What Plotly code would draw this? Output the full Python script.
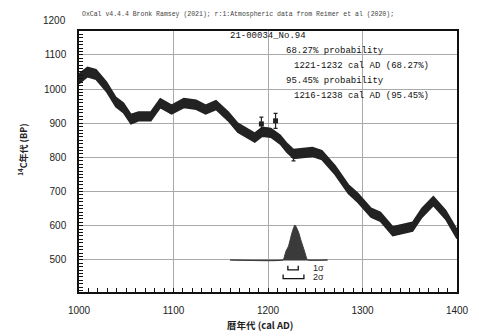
import plotly.graph_objects as go

# Calibration curve (IntCal20 band)
curve_years = [1000, 1009, 1018, 1029, 1039, 1047, 1055, 1063, 1076, 1086, 1098, 1111, 1124, 1134, 1145,
               1158, 1168, 1178, 1186, 1194, 1203, 1213, 1220, 1227, 1235, 1247, 1257, 1271, 1285, 1295, 1309,
               1319, 1332, 1339, 1353, 1363, 1375, 1388, 1400]
curve_bp = [1030, 1050, 1043, 1007, 962, 945, 912, 920, 920, 959, 940, 959, 954, 940, 953,
            920, 887, 870, 858, 875, 872, 852, 828, 810, 812, 816, 807, 763, 707, 682, 638,
            626, 584, 588, 597, 638, 672, 632, 575]
curve_err = [14, 14, 14, 14, 14, 14, 14, 13, 13, 13, 13, 13, 13, 13, 13,
             13, 13, 13, 13, 13, 13, 13, 13, 13, 13, 13, 13, 13, 13, 13, 13,
             13, 13, 13, 13, 13, 13, 13, 13]

# Data points with error bars
pt_years = [1193, 1208, 1227]
pt_bp = [898, 907, 806]
pt_err = [20, 22, 16]

# Calibrated probability distribution (relative)
dist_years = [1160, 1216, 1217, 1219, 1221.5, 1225, 1228.5, 1232, 1235, 1238.5, 1241, 1242, 1263]
dist_prob = [0, 0, 0.06, 0.25, 0.38, 0.74, 1.0, 0.82, 0.55, 0.26, 0.04, 0, 0]

range_1s = (1221, 1232)
range_2s = (1216, 1238)

x_ticks = [1000, 1100, 1200, 1300, 1400]
y_ticks = [500, 600, 700, 800, 900, 1000, 1100]

header = "OxCal v4.4.4 Bronk Ramsey (2021); r:1:Atmospheric data from Reimer et al (2020);"
info_lines = ["21-00034_No.94", "68.27% probability", "1221-1232 cal AD (68.27%)",
              "95.45% probability", "1216-1238 cal AD (95.45%)"]

# ---- layout constants (pixels) ----
W, H = 479, 336
L, R, T, B = 79, 10, 31, 44
PW, PH = W - L - R, H - T - B
YR = [406, 1170]
BASE_BP = 500
DIST_H = 102


def px(xp):
    return (xp - L) / PW


def py(yp):
    return (H - B - yp) / PH


fig = go.Figure()

upper = [c + e for c, e in zip(curve_bp, curve_err)]
lower = [c - e for c, e in zip(curve_bp, curve_err)]
fig.add_trace(go.Scatter(x=curve_years, y=upper, mode="lines", line=dict(color="#222", width=1.5),
                         hoverinfo="skip", showlegend=False))
fig.add_trace(go.Scatter(x=curve_years, y=lower, mode="lines", line=dict(color="#222", width=1.5),
                         fill="tonexty", fillcolor="#222", hoverinfo="skip", showlegend=False))

# distribution
fig.add_trace(go.Scatter(x=[dist_years[0], dist_years[-1]], y=[BASE_BP, BASE_BP], mode="lines",
                         line=dict(color="#777", width=1.5), showlegend=False, hoverinfo="skip"))
fig.add_trace(go.Scatter(x=dist_years, y=[BASE_BP + p * DIST_H for p in dist_prob], mode="lines",
                         line=dict(color="#3a3a3a", width=1, shape="spline", smoothing=0.6),
                         fill="toself", fillcolor="#3a3a3a",
                         showlegend=False, hoverinfo="skip"))

# data points
fig.add_trace(go.Scatter(x=pt_years, y=pt_bp, mode="markers",
                         marker=dict(symbol="square", size=5, color="#222"),
                         error_y=dict(type="data", array=pt_err, color="#222", thickness=1.2, width=2),
                         showlegend=False, hoverinfo="skip"))

# sigma brackets
for (a, b), ytop, ybot, lab in [(range_1s, 483, 471, "1σ"), (range_2s, 457, 445, "2σ")]:
    fig.add_shape(type="path", xref="x", yref="y",
                  path=f"M {a} {ytop} L {a} {ybot} L {b} {ybot} L {b} {ytop}",
                  line=dict(color="#111", width=1.3))
    fig.add_annotation(x=1245, y=(ytop + ybot) / 2, xref="x", yref="y", text=lab, showarrow=False,
                       xanchor="left", yanchor="middle",
                       font=dict(family="Liberation Sans", size=9, color="#222"))

ann = []
ann.append(dict(x=px(80), y=py(15), text=header, xanchor="left", yanchor="middle",
                font=dict(family="Liberation Mono", size=6.5, color="#444")))
info_pos = [(233, 36), (290, 51), (299, 66), (290, 81), (299, 96)]
for (xp, yp), t in zip(info_pos, info_lines):
    ann.append(dict(x=px(xp), y=py(yp), text=t, xanchor="left", yanchor="middle",
                    font=dict(family="Liberation Mono", size=9, color="#111")))
ann.append(dict(x=px(68), y=py(21), text="1200", xanchor="right", yanchor="middle",
                font=dict(family="Liberation Sans", size=10, color="#222")))
ann.append(dict(x=px(266), y=py(325), text="<b>暦年代 (cal AD)</b>", xanchor="center", yanchor="middle",
                font=dict(family="Noto Sans CJK JP", size=9.5, color="#222")))
ann.append(dict(x=px(21), y=py(150), text="<b><sup>14</sup>C年代 (BP)</b>", textangle=-90,
                xanchor="center", yanchor="middle",
                font=dict(family="Noto Sans CJK JP", size=9, color="#222")))
for a in ann:
    fig.add_annotation(xref="paper", yref="paper", showarrow=False, **a)

fig.update_layout(
    width=W, height=H, margin=dict(l=L, r=R, t=T, b=B),
    paper_bgcolor="white", plot_bgcolor="white",
    font=dict(family="Liberation Sans", size=10, color="#222"),
)
fig.update_xaxes(range=[1000, 1400], tickvals=x_ticks, ticks="inside", ticklen=4, tickcolor="#111",
                 showgrid=True, gridcolor="#aaa", gridwidth=1,
                 showline=True, linecolor="#111", linewidth=1.5, mirror=True,
                 minor=dict(dtick=10, ticks="inside", ticklen=4, tickcolor="#111", showgrid=False),
                 ticklabelstandoff=8, zeroline=False)
fig.update_yaxes(range=YR, tickvals=y_ticks, ticks="inside", ticklen=4, tickcolor="#111",
                 showgrid=True, gridcolor="#aaa", gridwidth=1,
                 showline=True, linecolor="#111", linewidth=1.5, mirror=True,
                 minor=dict(dtick=10, ticks="inside", ticklen=4, tickcolor="#111", showgrid=False),
                 ticklabelstandoff=9, zeroline=False)

fig.write_html("out.html", config={"displayModeBar": False},
               post_script="document.body.style.margin='0';document.body.style.padding='0';")
